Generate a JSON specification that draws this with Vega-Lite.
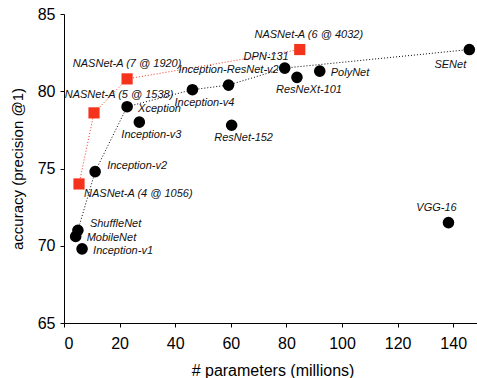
{
  "$schema": "https://vega.github.io/schema/vega-lite/v6.json",
  "width": 417,
  "height": 309,
  "autosize": {"type": "none"},
  "padding": {"left": 64, "top": 14, "right": 0, "bottom": 55},
  "background": "white",
  "config": {
    "view": {"stroke": null},
    "font": "Liberation Sans",
    "axis": {
      "grid": false,
      "domainColor": "black",
      "tickColor": "black",
      "tickSize": 4,
      "labelColor": "black",
      "titleColor": "black",
      "labelFontSize": 16,
      "titleFontSize": 16,
      "titleFontWeight": "normal",
      "labelFont": "Liberation Sans",
      "titleFont": "Liberation Sans"
    }
  },
  "data": {
    "values": [
      {"name": "ShuffleNet", "params": 5.0, "acc": 71.0, "family": "other", "frontier": true},
      {"name": "MobileNet", "params": 4.2, "acc": 70.6, "family": "other", "frontier": false},
      {"name": "Inception-v1", "params": 6.5, "acc": 69.8, "family": "other", "frontier": false},
      {"name": "Inception-v2", "params": 11.2, "acc": 74.8, "family": "other", "frontier": true},
      {"name": "Inception-v3", "params": 27.1, "acc": 78.0, "family": "other", "frontier": false},
      {"name": "Xception", "params": 22.7, "acc": 79.0, "family": "other", "frontier": true},
      {"name": "Inception-v4", "params": 46.2, "acc": 80.1, "family": "other", "frontier": true},
      {"name": "Inception-ResNet-v2", "params": 59.2, "acc": 80.4, "family": "other", "frontier": true},
      {"name": "ResNet-152", "params": 60.3, "acc": 77.8, "family": "other", "frontier": false},
      {"name": "DPN-131", "params": 79.4, "acc": 81.5, "family": "other", "frontier": true},
      {"name": "ResNeXt-101", "params": 83.8, "acc": 80.9, "family": "other", "frontier": false},
      {"name": "PolyNet", "params": 92.0, "acc": 81.3, "family": "other", "frontier": false},
      {"name": "SENet", "params": 145.8, "acc": 82.7, "family": "other", "frontier": true},
      {"name": "VGG-16", "params": 138.3, "acc": 71.5, "family": "other", "frontier": false},
      {"name": "NASNet-A (4 @ 1056)", "params": 5.4, "acc": 74.0, "family": "NASNet", "frontier": true},
      {"name": "NASNet-A (5 @ 1538)", "params": 10.8, "acc": 78.6, "family": "NASNet", "frontier": true},
      {"name": "NASNet-A (7 @ 1920)", "params": 22.7, "acc": 80.8, "family": "NASNet", "frontier": true},
      {"name": "NASNet-A (6 @ 4032)", "params": 84.8, "acc": 82.7, "family": "NASNet", "frontier": true}
    ]
  },
  "encoding": {
    "x": {
      "field": "params", "type": "quantitative",
      "scale": {"domain": [0, 150], "nice": false, "zero": false},
      "axis": {"values": [0, 20, 40, 60, 80, 100, 120, 140], "title": "# parameters (millions)", "labelPadding": 8, "titlePadding": 11}
    },
    "y": {
      "field": "acc", "type": "quantitative",
      "scale": {"domain": [65, 85], "nice": false, "zero": false},
      "axis": {"values": [65, 70, 75, 80, 85], "title": "accuracy (precision @1)", "titleFontSize": 15, "labelPadding": 5, "titlePadding": 12}
    }
  },
  "layer": [
    {
      "transform": [{"filter": "datum.frontier && datum.family == 'other'"}],
      "mark": {"type": "line", "color": "black", "strokeWidth": 1, "strokeDash": [1, 2]},
      "encoding": {"order": {"field": "params", "type": "quantitative"}}
    },
    {
      "transform": [{"filter": "datum.family == 'NASNet'"}],
      "mark": {"type": "line", "color": "#f5331c", "strokeWidth": 1, "strokeDash": [1, 2]},
      "encoding": {"order": {"field": "params", "type": "quantitative"}}
    },
    {
      "transform": [{"filter": "datum.family == 'other'"}],
      "mark": {"type": "point", "shape": "circle", "filled": true, "color": "black", "opacity": 1, "size": 135}
    },
    {
      "transform": [{"filter": "datum.family == 'NASNet'"}],
      "mark": {"type": "point", "shape": "square", "filled": true, "color": "#f5331c", "opacity": 1, "size": 125}
    },
    {
      "transform": [{"filter": {"field": "name", "oneOf": ["PolyNet", "Xception", "MobileNet", "Inception-v1"]}}],
      "mark": {"type": "text", "fontSize": 11, "fontStyle": "italic", "align": "left", "baseline": "middle", "dx": 11, "dy": 2, "color": "#111"},
      "encoding": {"text": {"field": "name"}}
    },
    {
      "transform": [{"filter": {"field": "name", "oneOf": ["Inception-v2", "ShuffleNet"]}}],
      "mark": {"type": "text", "fontSize": 11, "fontStyle": "italic", "align": "left", "baseline": "middle", "dx": 12, "dy": -6, "color": "#111"},
      "encoding": {"text": {"field": "name"}}
    },
    {
      "transform": [{"filter": {"field": "name", "oneOf": ["ResNeXt-101", "Inception-v4", "Inception-v3", "ResNet-152"]}}],
      "mark": {"type": "text", "fontSize": 11, "fontStyle": "italic", "align": "center", "baseline": "middle", "dx": 12, "dy": 13, "color": "#111"},
      "encoding": {"text": {"field": "name"}}
    },
    {
      "transform": [{"filter": {"field": "name", "oneOf": ["Inception-ResNet-v2", "NASNet-A (7 @ 1920)"]}}],
      "mark": {"type": "text", "fontSize": 11, "fontStyle": "italic", "align": "center", "baseline": "middle", "dx": 0, "dy": -15, "color": "#111"},
      "encoding": {"text": {"field": "name"}}
    },
    {
      "transform": [{"filter": {"field": "name", "oneOf": ["NASNet-A (6 @ 4032)"]}}],
      "mark": {"type": "text", "fontSize": 11, "fontStyle": "italic", "align": "center", "baseline": "middle", "dx": 9, "dy": -15, "color": "#111"},
      "encoding": {"text": {"field": "name"}}
    },
    {
      "transform": [{"filter": {"field": "name", "oneOf": ["SENet"]}}],
      "mark": {"type": "text", "fontSize": 11, "fontStyle": "italic", "align": "center", "baseline": "middle", "dx": -19, "dy": 15, "color": "#111"},
      "encoding": {"text": {"field": "name"}}
    },
    {
      "transform": [{"filter": {"field": "name", "oneOf": ["DPN-131"]}}],
      "mark": {"type": "text", "fontSize": 11, "fontStyle": "italic", "align": "right", "baseline": "middle", "dx": 4, "dy": -11, "color": "#111"},
      "encoding": {"text": {"field": "name"}}
    },
    {
      "transform": [{"filter": {"field": "name", "oneOf": ["NASNet-A (5 @ 1538)"]}}],
      "mark": {"type": "text", "fontSize": 11, "fontStyle": "italic", "align": "center", "baseline": "middle", "dx": 25, "dy": -18, "color": "#111"},
      "encoding": {"text": {"field": "name"}}
    },
    {
      "transform": [{"filter": {"field": "name", "oneOf": ["NASNet-A (4 @ 1056)"]}}],
      "mark": {"type": "text", "fontSize": 11, "fontStyle": "italic", "align": "left", "baseline": "middle", "dx": 5, "dy": 10, "color": "#111"},
      "encoding": {"text": {"field": "name"}}
    },
    {
      "transform": [{"filter": {"field": "name", "oneOf": ["VGG-16"]}}],
      "mark": {"type": "text", "fontSize": 11, "fontStyle": "italic", "align": "center", "baseline": "middle", "dx": -12, "dy": -15, "color": "#111"},
      "encoding": {"text": {"field": "name"}}
    }
  ]
}
